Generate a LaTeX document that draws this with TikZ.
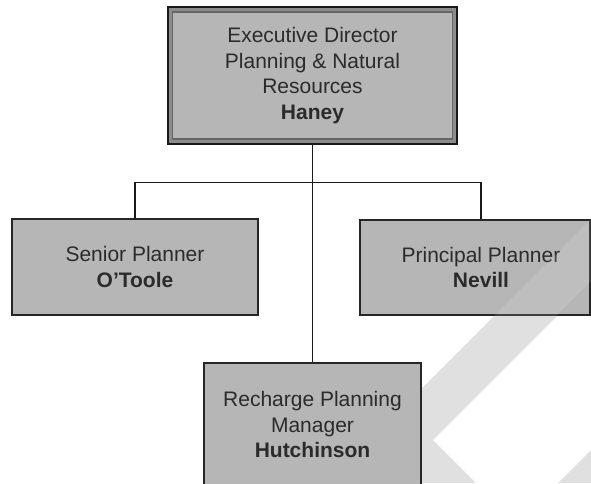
\documentclass[tikz,border=0pt]{standalone}
\usepackage{fontspec}
\setmainfont{Liberation Sans}
\definecolor{boxgray}{HTML}{B6B6B6}
\definecolor{framegray}{HTML}{8C8C8C}
\definecolor{wm}{HTML}{E0E0E0}
\definecolor{txt}{HTML}{2B2B2B}
\begin{document}
\begin{tikzpicture}[x=1pt,y=-1pt,
  lbl/.style={align=center, text=txt, inner sep=0pt, font=\fontsize{21}{25.5}\selectfont},
  box/.style={lbl, draw=black!85, line width=1.3pt, fill=boxgray},
  conn/.style={draw=black!90, line width=1.6pt}]
\clip (0,0) rectangle (591,483);
\fill[white] (0,0) rectangle (591,483);
% watermark
\fill[wm] (591,219) -- (370.5,439.5) -- (414,483) -- (476,483) -- (433,440) -- (591,282) -- cycle;
\fill[wm] (591,450) -- (558,483) -- (591,483) -- cycle;
% top box (double frame)
\node[draw=black!90, line width=1.8pt, fill=framegray, minimum width=289pt, minimum height=137pt, inner sep=0pt] (topframe) at (312.5,75.5) {};
\node[box, draw=black!60, line width=1.2pt, minimum width=280pt, minimum height=127pt] (top) at (312.5,75.5)
  {Executive Director\\Planning \& Natural\\Resources\\\textbf{Haney}};
% second level
\node[box, minimum width=246pt, minimum height=96pt] (sp) at (135,267) {Senior Planner\\\textbf{O’Toole}};
\node[box, minimum width=230pt, minimum height=95pt] (pp) at (475,267.5) {};
\node[lbl] (ppt) at (481,267.5) {Principal Planner\\\textbf{Nevill}};
\node[box, minimum width=217pt, minimum height=123pt] (rp) at (312.5,424.5) {Recharge Planning\\Manager\\\textbf{Hutchinson}};
% watermark over Nevill box
\begin{scope}
  \clip (pp.south west) rectangle (pp.north east);
  \fill[white, opacity=0.12] (650,160) -- (370,440) -- (432,440) -- (650,222) -- cycle;
\end{scope}
% connectors
\draw[conn] (topframe.south) -- (rp.north);
\draw[conn] (sp.north) -- ++(0,-36) -| (ppt.center |- pp.north);
\end{tikzpicture}
\end{document}
